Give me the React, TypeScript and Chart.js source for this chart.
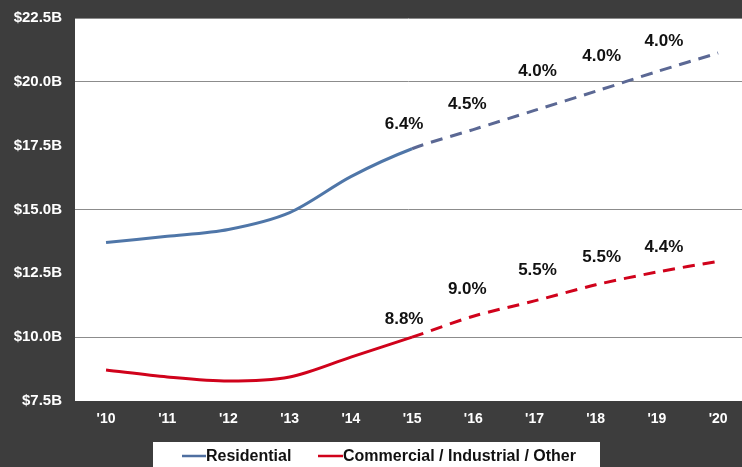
import React, { useEffect, useRef } from 'react';
import { Chart, registerables } from 'chart.js';

Chart.register(...registerables);

const years = ["'10", "'11", "'12", "'13", "'14", "'15", "'16", "'17", "'18", "'19", "'20"];
const residential = [13.71, 13.95, 14.22, 14.88, 16.29, 17.38, 18.13, 18.88, 19.63, 20.4, 21.13];
const commercial = [8.71, 8.44, 8.28, 8.44, 9.22, 10.0, 10.82, 11.42, 12.05, 12.55, 12.97];
const residentialGrowth = ['6.4%', '4.5%', '4.0%', '4.0%', '4.0%'];
const commercialGrowth = ['8.8%', '9.0%', '5.5%', '5.5%', '4.4%'];
const yTicks = [7.5, 10, 12.5, 15, 17.5, 20, 22.5];
const gridValues = [10, 15, 20, 22.5];
const forecastStart = 5;

// label offsets (pixels) relative to the point they annotate
const resOffsets = [[-8, -24], [-6, -25], [3, -39], [6, -35], [7, -30]];
const comOffsets = [[-8, -18], [-6, -27], [3, -31], [6, -28], [7, -25]];

const FONT = '"Liberation Sans", Arial, sans-serif';
const yLabel = (v: number) => '$' + v.toFixed(1) + 'B';

const decorPlugin = {
  id: 'decor',
  beforeDraw(chart: any) {
    const { ctx, chartArea: a, width, height } = chart;
    ctx.save();
    ctx.fillStyle = '#3d3d3d';
    ctx.fillRect(0, 0, width, height);
    ctx.fillStyle = '#ffffff';
    ctx.fillRect(a.left, a.top, a.right - a.left, a.bottom - a.top);
    ctx.restore();
  },
  afterDraw(chart: any) {
    const { ctx, chartArea: a } = chart;
    const xs = chart.scales.x;
    const ys = chart.scales.y;
    ctx.save();

    // y tick labels
    ctx.font = `bold 15px ${FONT}`;
    ctx.fillStyle = '#ffffff';
    ctx.textAlign = 'right';
    ctx.textBaseline = 'middle';
    yTicks.forEach((v) => {
      ctx.fillText(yLabel(v), a.left - 13, ys.getPixelForValue(v));
    });

    // growth labels
    ctx.font = `bold 17px ${FONT}`;
    ctx.fillStyle = '#111';
    ctx.textAlign = 'center';
    residentialGrowth.forEach((t, i) => {
      const idx = forecastStart + i;
      const px = xs.getPixelForValue(idx) + resOffsets[i][0];
      const py = ys.getPixelForValue(residential[idx]) + resOffsets[i][1];
      ctx.fillText(t, px, py);
    });
    commercialGrowth.forEach((t, i) => {
      const idx = forecastStart + i;
      const px = xs.getPixelForValue(idx) + comOffsets[i][0];
      const py = ys.getPixelForValue(commercial[idx]) + comOffsets[i][1];
      ctx.fillText(t, px, py);
    });

    // legend
    ctx.fillStyle = '#ffffff';
    ctx.fillRect(153, 442, 447, 30);
    ctx.lineWidth = 2.5;
    ctx.strokeStyle = '#4f6fa0';
    ctx.beginPath();
    ctx.moveTo(182, 456);
    ctx.lineTo(206, 456);
    ctx.stroke();
    ctx.strokeStyle = '#d0021b';
    ctx.beginPath();
    ctx.moveTo(318, 456);
    ctx.lineTo(343, 456);
    ctx.stroke();
    ctx.font = `bold 16px ${FONT}`;
    ctx.fillStyle = '#111';
    ctx.textAlign = 'left';
    ctx.fillText('Residential', 206, 457);
    ctx.fillText('Commercial / Industrial / Other', 343, 457);
    ctx.restore();
  },
};

export default function App() {
  const ref = useRef<HTMLCanvasElement>(null);
  useEffect(() => {
    document.body.style.margin = '0';
    document.body.style.overflow = 'hidden';
    const dashed = (ctx: any) => (ctx.p0DataIndex >= forecastStart ? [12, 8] : undefined);
    const chart = new Chart(ref.current!, {
      type: 'line',
      data: {
        datasets: [
          {
            label: 'Residential',
            data: residential.map((v, i) => ({ x: i, y: v })),
            borderColor: '#4f76a8',
            borderWidth: 3,
            tension: 0.3,
            pointRadius: 0,
            segment: {
              borderDash: dashed,
              borderColor: (ctx: any) => (ctx.p0DataIndex >= forecastStart ? '#5b6894' : undefined),
            },
          },
          {
            label: 'Commercial / Industrial / Other',
            data: commercial.map((v, i) => ({ x: i, y: v })),
            borderColor: '#d0021b',
            borderWidth: 3,
            tension: 0.3,
            pointRadius: 0,
            segment: { borderDash: dashed },
          },
        ],
      },
      options: {
        animation: false,
        responsive: false,
        layout: { padding: { top: 18, left: 0, right: 0, bottom: 0 } },
        plugins: { legend: { display: false }, tooltip: { enabled: false } },
        scales: {
          x: {
            type: 'linear',
            min: -0.507,
            max: 10.39,
            afterBuildTicks: (axis: any) => {
              axis.ticks = years.map((_, i) => ({ value: i }));
            },
            afterFit: (scale: any) => {
              scale.height = 66;
            },
            grid: { display: false, drawTicks: false },
            border: { display: false },
            ticks: {
              padding: 10,
              color: '#ffffff',
              font: { family: FONT, size: 14, weight: 'bold' },
              callback: (v: any) => years[v as number] ?? '',
            },
          },
          y: {
            min: 7.5,
            max: 22.5,
            afterBuildTicks: (axis: any) => {
              axis.ticks = yTicks.map((v) => ({ value: v }));
            },
            afterFit: (scale: any) => {
              scale.width = 75;
            },
            grid: {
              drawTicks: false,
              color: (c: any) => (gridValues.includes(c.tick?.value) ? '#8c8c8c' : 'rgba(0,0,0,0)'),
              lineWidth: 1,
            },
            border: { display: false },
            ticks: { display: false },
          },
        },
      },
      plugins: [decorPlugin],
    } as any);
    return () => chart.destroy();
  }, []);
  return (
    <div style={{ width: 742, height: 467 }}>
      <canvas ref={ref} width={742} height={467} style={{ display: 'block' }} />
    </div>
  );
}
